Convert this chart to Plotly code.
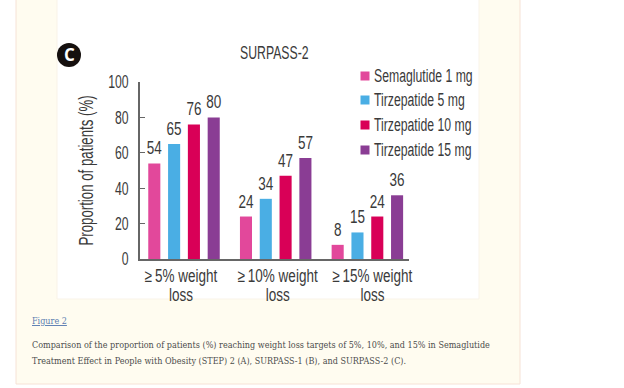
import plotly.graph_objects as go

W, H = 624, 388
categories = ["≥\u20095% weight<br>loss", "≥\u200910% weight<br>loss", "≥\u200915% weight<br>loss"]
series_names = ["Semaglutide 1 mg", "Tirzepatide 5 mg", "Tirzepatide 10 mg", "Tirzepatide 15 mg"]
semaglutide_1 = [54, 24, 8]
tirzepatide_5 = [65, 34, 15]
tirzepatide_10 = [76, 47, 24]
tirzepatide_15 = [80, 57, 36]
colors = ["#E2489B", "#4AAEE4", "#D90057", "#8A3D94"]
y_ticks = [0, 20, 40, 60, 80, 100]

NARROW = "Liberation Sans"
SERIF = "DejaVu Serif"
TXT = "#3a3a3a"

L, R, T, B = 140, 215, 82, 129
PW, PH = W - L - R, H - T - B
def px(x): return (x - L) / PW
def py(y): return 1 - (y - T) / PH

fig = go.Figure()
for name, vals, col in zip(series_names, [semaglutide_1, tirzepatide_5, tirzepatide_10, tirzepatide_15], colors):
    fig.add_trace(go.Bar(
        name=name, x=categories, y=vals, marker=dict(color=col, line=dict(width=0)),
        text=[str(v) for v in vals], textposition="outside", textangle=0, constraintext="none",
        textfont=dict(family=NARROW, size=18, color=TXT), cliponaxis=False,
    ))

def rect(x0, y0, x1, y1, fill, line=None, layer="below"):
    return dict(type="rect", xref="paper", yref="paper", x0=px(x0), x1=px(x1), y0=py(y0), y1=py(y1),
                fillcolor=fill, line=dict(color=line or fill, width=1 if line else 0), layer=layer)

shapes = [
    rect(16, -5, 520, 384, "#FFFCF0", "#F6E2D6"),
    rect(57, -5, 479, 299, "#FFFFFF", "#F9F3E8"),
    dict(type="circle", xref="paper", yref="paper", x0=px(57), x1=px(81), y0=py(43), y1=py(67),
         fillcolor="#15100E", line=dict(width=0), layer="above"),
]
annotations = []
def text(x, y, s, size, family=NARROW, color=TXT, anchor="left", **kw):
    annotations.append(dict(xref="paper", yref="paper", x=px(x), y=py(y), text=s, showarrow=False,
                            xanchor=anchor, align=anchor, yanchor="middle", font=dict(family=family, size=size, color=color),
                            borderpad=0, borderwidth=0, **kw))

text(69, 55, "<b>C</b>", 17, family="Open Sans", color="#FFFFFF", anchor="center")
text(274.5, 53, "SURPASS-2", 18, anchor="center")
legend_y = [76, 100, 125, 150]
for name, col, ly in zip(series_names, colors, legend_y):
    shapes.append(rect(360.5, ly - 4.5, 369.5, ly + 4.5, col, layer="above"))
    text(374, ly, name, 18)
text(32, 320, "<u>Figure 2</u>", 9.5, family=SERIF, color="#5B7DB1")
text(32, 344, "Comparison of the proportion of patients (%) reaching weight loss targets of 5%, 10%, and 15% in Semaglutide", 9.5, family=SERIF, color="#4C4C4C")
text(32, 360, "Treatment Effect in People with Obesity (STEP) 2 (A), SURPASS-1 (B), and SURPASS-2 (C).", 9.5, family=SERIF, color="#4C4C4C")
text(86, 171, "Proportion of patients (%)", 19.5, anchor="center", textangle=-90)

fig.update_layout(
    width=W, height=H, autosize=False,
    margin=dict(l=L, r=R, t=T, b=B, pad=0),
    paper_bgcolor="#FFFFFF", plot_bgcolor="rgba(0,0,0,0)",
    barmode="group", bargap=0.136, bargroupgap=0.39, showlegend=False,
    shapes=shapes, annotations=annotations,
    font=dict(family=NARROW, color=TXT),
    xaxis=dict(type="category", range=[-0.48, 2.454], showline=True, linecolor="#666666", linewidth=1.5,
               ticks="", showgrid=False, tickangle=0, tickfont=dict(family=NARROW, size=18, color=TXT), automargin=False, zeroline=False),
    yaxis=dict(range=[0, 100], tickvals=y_ticks, showline=True, linecolor="#666666", linewidth=1.5,
               ticks="inside", ticklen=5, tickwidth=1, tickcolor="#666666", showgrid=False, zeroline=False,
               tickfont=dict(family=NARROW, size=18, color=TXT), ticklabelstandoff=6, automargin=False),
)

# page without body margin; no condensed font is installed, so squeeze the real text horizontally
post = """
document.body.style.margin = '0';
function squeeze() {
  var factors = {'Liberation Sans': 0.68, 'DejaVu Serif': 0.85};
  var xShift = [-3, 2, 5], xi = 0;
  document.querySelectorAll('svg text').forEach(function (el) {
    if (el.dataset.sq) return;
    var fam = (el.style.fontFamily || '').replace(/["']/g, '');
    var f = factors[fam];
    if (!f) return;
    el.dataset.sq = '1';
    var isX = !!el.closest('.xtick');
    var isBar = el.classList.contains('bartext');
    if (isX || isBar) f = 0.75;
    var t = el.getAttribute('transform') || '';
    if (isX) el.setAttribute('transform', 'translate(' + xShift[xi++] + ',0) ' + t);
    if (isBar) el.setAttribute('transform', 'translate(0,-2) ' + t);
    var lines = el.querySelectorAll('tspan.line');
    (lines.length ? Array.from(lines) : [el]).forEach(function (n, i) {
      n.setAttribute('textLength', n.getComputedTextLength() * f);
      n.setAttribute('lengthAdjust', 'spacingAndGlyphs');
      if (isX && i > 0) n.setAttribute('dy', '1.02em');
    });
  });
}
squeeze();
setTimeout(squeeze, 50);
setTimeout(squeeze, 300);
"""
fig.write_html("out.html", post_script=post, config={"displayModeBar": False})
